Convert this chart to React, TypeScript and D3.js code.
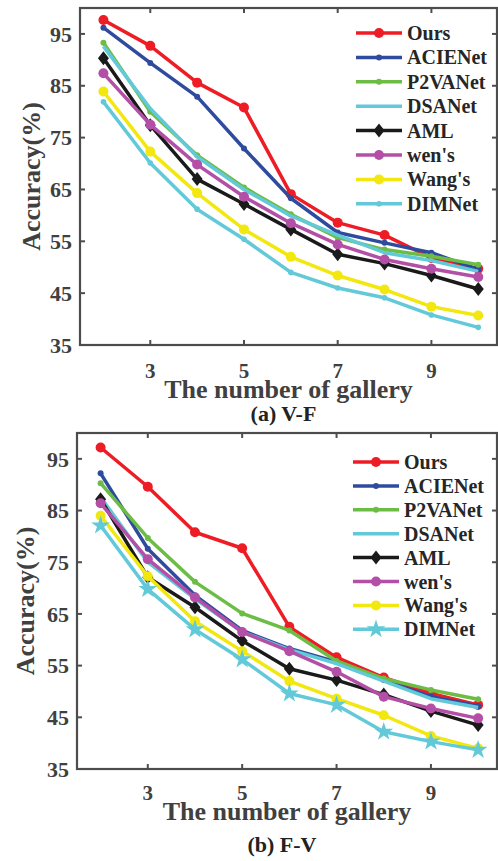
import React, { useEffect, useRef } from 'react';
import * as d3 from 'd3';

// x values (number of gallery)
const gallery = [2, 3, 4, 5, 6, 7, 8, 9, 10];

// method names, in legend order
const methods = ['Ours', 'ACIENet', 'P2VANet', 'DSANet', 'AML', "wen's", "Wang's", 'DIMNet'];

// (a) V-F accuracies
const vfOurs = [97.7, 92.7, 85.6, 80.8, 64.1, 58.6, 56.2, 51.8, 49.7];
const vfAcie = [96.2, 89.4, 82.9, 72.9, 63.3, 56.7, 54.7, 52.8, 49.6];
const vfP2va = [93.3, 80.0, 71.6, 65.4, 60.2, 55.7, 53.4, 52.1, 50.5];
const vfDsa = [92.6, 80.6, 71.3, 65.0, 59.9, 56.2, 52.8, 51.3, 49.2];
const vfAml = [90.3, 77.4, 67.0, 62.2, 57.3, 52.5, 50.7, 48.4, 45.8];
const vfWen = [87.4, 77.5, 69.8, 63.6, 58.5, 54.4, 51.5, 49.7, 48.1];
const vfWang = [83.9, 72.3, 64.3, 57.3, 52.0, 48.4, 45.7, 42.4, 40.7];
const vfDim = [81.9, 70.1, 61.2, 55.4, 49.0, 46.0, 44.1, 40.8, 38.4];

// (b) F-V accuracies
const fvOurs = [97.2, 89.6, 80.8, 77.7, 62.5, 56.6, 52.7, 49.6, 47.4];
const fvAcie = [92.2, 77.6, 68.6, 61.8, 58.3, 55.7, 52.2, 49.0, 47.2];
const fvP2va = [90.3, 79.7, 71.2, 65.1, 61.8, 55.9, 52.5, 50.3, 48.5];
const fvDsa = [87.6, 75.0, 67.9, 61.5, 58.1, 55.4, 52.0, 48.6, 46.9];
const fvAml = [87.2, 72.1, 66.3, 59.8, 54.4, 52.2, 49.4, 46.2, 43.5];
const fvWen = [86.4, 75.6, 68.2, 61.5, 57.8, 53.8, 49.0, 46.7, 44.8];
const fvWang = [84.0, 72.3, 63.6, 57.8, 52.0, 48.6, 45.4, 41.4, 39.0];
const fvDim = [82.1, 69.8, 62.0, 56.2, 49.6, 47.4, 42.2, 40.3, 38.7];

// axis ticks
const xTicks = [3, 5, 7, 9];
const yTicks = [35, 45, 55, 65, 75, 85, 95];

// colour and marker of each method
const colors = ['#ee1c25', '#2f4b9e', '#6cbd45', '#62c9d9', '#1a1a1a', '#b34fa6', '#f2e70f', '#62c9d9'];

const App = () => {
  const ref = useRef(null);

  useEffect(() => {
    const svg = d3.select(ref.current);
    svg.selectAll('*').remove();

    const font = '"Liberation Serif", "Times New Roman", serif';
    const axisColor = '#4d4d4d';
    const textColor = '#404040';

    // panel layouts (pixels)
    const panels = [
      {
        series: [vfOurs, vfAcie, vfP2va, vfDsa, vfAml, vfWen, vfWang, vfDim],
        left: 80, right: 497, top: 8, bottom: 345,
        yLabelX: 40, tickY: 33, labelY: 53, captionY: 76, caption: '(a) V-F',
        legX: 356, legY: 33, legStep: 24.4, dimStar: false,
      },
      {
        series: [fvOurs, fvAcie, fvP2va, fvDsa, fvAml, fvWen, fvWang, fvDim],
        left: 77, right: 497, top: 433, bottom: 769,
        yLabelX: 34, tickY: 31, labelY: 51, captionY: 83, caption: '(b) F-V',
        legX: 353, legY: 462, legStep: 23.9, dimStar: true,
      },
    ];

    // marker drawing helper
    const drawMarker = (g, i, cx, cy, star) => {
      const c = colors[i];
      if (i === 0 || i === 5 || i === 6) {
        g.append('circle').attr('cx', cx).attr('cy', cy).attr('r', 5).attr('fill', c);
      } else if (i === 1 || i === 2) {
        g.append('circle').attr('cx', cx).attr('cy', cy).attr('r', 3).attr('fill', c);
      } else if (i === 4) {
        g.append('path')
          .attr('d', `M${cx},${cy - 7}L${cx + 5.5},${cy}L${cx},${cy + 7}L${cx - 5.5},${cy}Z`)
          .attr('fill', c);
      } else if (i === 7) {
        if (star) {
          g.append('path')
            .attr('d', d3.symbol(d3.symbolStar, 110)())
            .attr('transform', `translate(${cx},${cy})`)
            .attr('fill', c);
        } else {
          g.append('circle').attr('cx', cx).attr('cy', cy).attr('r', 2.8).attr('fill', c);
        }
      }
    };

    panels.forEach(p => {
      const g = svg.append('g');

      const x = d3.scaleLinear().domain([1.5, 10.4]).range([p.left, p.right]);
      const y = d3.scaleLinear().domain([35, 100]).range([p.bottom, p.top]);

      // frame
      g.append('rect')
        .attr('x', p.left).attr('y', p.top)
        .attr('width', p.right - p.left).attr('height', p.bottom - p.top)
        .attr('fill', 'none').attr('stroke', axisColor).attr('stroke-width', 2.2);

      // inward ticks on all sides
      xTicks.forEach(t => {
        g.append('line').attr('x1', x(t)).attr('x2', x(t)).attr('y1', p.bottom).attr('y2', p.bottom - 5)
          .attr('stroke', axisColor).attr('stroke-width', 2);
        g.append('line').attr('x1', x(t)).attr('x2', x(t)).attr('y1', p.top).attr('y2', p.top + 5)
          .attr('stroke', axisColor).attr('stroke-width', 2);
        g.append('text').attr('x', x(t)).attr('y', p.bottom + p.tickY)
          .attr('text-anchor', 'middle').attr('font-family', font).attr('font-weight', 'bold')
          .attr('font-size', 21).attr('fill', textColor).text(t);
      });
      yTicks.forEach(t => {
        g.append('line').attr('x1', p.left).attr('x2', p.left + 5).attr('y1', y(t)).attr('y2', y(t))
          .attr('stroke', axisColor).attr('stroke-width', 2);
        g.append('line').attr('x1', p.right).attr('x2', p.right - 5).attr('y1', y(t)).attr('y2', y(t))
          .attr('stroke', axisColor).attr('stroke-width', 2);
        g.append('text').attr('x', p.left - 8).attr('y', y(t)).attr('dy', '0.35em')
          .attr('text-anchor', 'end').attr('font-family', font).attr('font-weight', 'bold')
          .attr('font-size', 22).attr('fill', textColor).text(t);
      });

      // axis labels and caption
      g.append('text')
        .attr('transform', `translate(${p.yLabelX},${(p.top + p.bottom) / 2}) rotate(-90)`)
        .attr('text-anchor', 'middle').attr('font-family', font).attr('font-weight', 'bold')
        .attr('font-size', 26).attr('fill', textColor).text('Accuracy(%)');
      g.append('text').attr('x', (p.left + p.right) / 2).attr('y', p.bottom + p.labelY)
        .attr('text-anchor', 'middle').attr('font-family', font).attr('font-weight', 'bold')
        .attr('font-size', 26).attr('fill', textColor).text('The number of gallery');
      g.append('text').attr('x', (p.left + p.right) / 2 - 5).attr('y', p.bottom + p.captionY)
        .attr('text-anchor', 'middle').attr('font-family', font).attr('font-weight', 'bold')
        .attr('font-size', 22).attr('fill', '#222').text(p.caption);

      // lines with markers
      const line = d3.line().x((d, i) => x(gallery[i])).y(d => y(d));
      p.series.forEach((s, i) => {
        const sg = g.append('g');
        sg.append('path').datum(s).attr('d', line)
          .attr('fill', 'none').attr('stroke', colors[i]).attr('stroke-width', 3.5)
          .attr('stroke-linejoin', 'round');
        s.forEach((v, j) => drawMarker(sg, i, x(gallery[j]), y(v), p.dimStar));
      });

      // legend
      methods.forEach((m, i) => {
        const ly = p.legY + i * p.legStep;
        const lg = g.append('g');
        lg.append('line').attr('x1', p.legX).attr('x2', p.legX + 46).attr('y1', ly).attr('y2', ly)
          .attr('stroke', colors[i]).attr('stroke-width', 3.5);
        drawMarker(lg, i, p.legX + 23, ly, p.dimStar);
        lg.append('text').attr('x', p.legX + 51).attr('y', ly).attr('dy', '0.35em')
          .attr('font-family', font).attr('font-weight', 'bold').attr('font-size', 20)
          .attr('fill', '#262626').text(m);
      });
    });
  }, []);

  return (
    <svg ref={ref} width={498} height={861}
      style={{ position: 'absolute', left: 0, top: 0, background: '#fff' }} />
  );
};

export default App;
